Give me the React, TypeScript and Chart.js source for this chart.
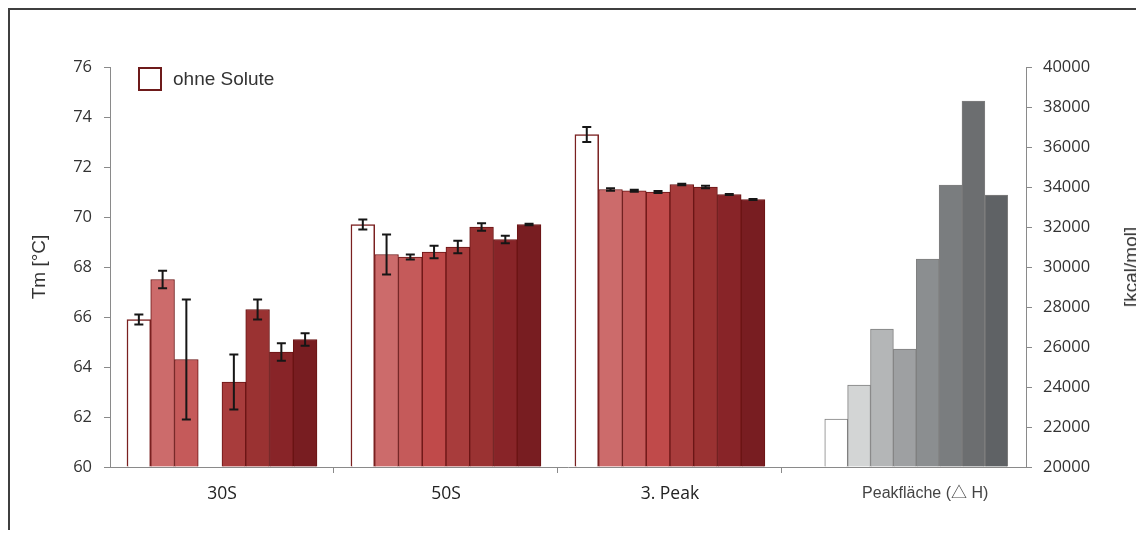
import React, { useEffect, useRef } from 'react';
import { Chart, registerables } from 'chart.js';

Chart.register(...registerables);

// Fraktionen mit Schmelztemperatur (Tm) und die Enthalpie-Gruppe
const categories = ['30S', '50S', '3. Peak'];
const enthalpyCategory = 'Peakfläche (△ H)';

const seriesNames = ['ohne Solute', 'Solut A', 'Solut B', 'Solut C', 'Solut D', 'Solut E', 'Solut F', 'Solut G'];

// Tm [°C] je Fraktion (30S, 50S, 3. Peak) und Standardabweichung
const tmOhneSolute = [65.9, 69.7, 73.3];
const sdOhneSolute = [0.2, 0.2, 0.3];
const tmSolutA = [67.5, 68.5, 71.1];
const sdSolutA = [0.35, 0.8, 0.05];
const tmSolutB = [64.3, 68.4, 71.05];
const sdSolutB = [2.4, 0.1, 0.04];
const tmSolutC = [null, 68.6, 71.0];
const sdSolutC = [null, 0.25, 0.04];
const tmSolutD = [63.4, 68.8, 71.3];
const sdSolutD = [1.1, 0.25, 0.03];
const tmSolutE = [66.3, 69.6, 71.2];
const sdSolutE = [0.4, 0.15, 0.05];
const tmSolutF = [64.6, 69.1, 70.9];
const sdSolutF = [0.35, 0.15, 0.02];
const tmSolutG = [65.1, 69.7, 70.7];
const sdSolutG = [0.25, 0.03, 0.02];

// Peakfläche ΔH [kcal/mol] je Probe
const deltaH = [22400, 24100, 26900, 25900, 30400, 34100, 38300, 33600];

// Achsenbereiche
const TM_MIN = 60;
const TM_MAX = 76;
const TM_STEP = 2;
const DH_MIN = 20000;
const DH_MAX = 40000;
const DH_STEP = 2000;

const tmRows = [tmOhneSolute, tmSolutA, tmSolutB, tmSolutC, tmSolutD, tmSolutE, tmSolutF, tmSolutG];
const sdRows = [sdOhneSolute, sdSolutA, sdSolutB, sdSolutC, sdSolutD, sdSolutE, sdSolutF, sdSolutG];

// Horizontale Einteilung: eine Einheit = eine Fraktion
const X_SPAN = 4.09;
const ENTHALPY_CENTER = 3.6;
const ENTHALPY_LABEL_AT = 3.64;
const RED_BAR_PX = 23.75;
const GREY_BAR_PX = 22.875;
const GREY_STEP = GREY_BAR_PX / 224;

const AXIS = '#8a8a8a';
const redFills = ['#ffffff', '#cc6b6b', '#c55a5a', '#c04a4a', '#a83c3c', '#9a3232', '#882428', '#781d21'];
const redBorders = ['#7a2020', '#6a1414', '#6a1414', '#6a1414', '#6a1414', '#6a1414', '#6a1414', '#6a1414'];
const greyFills = ['#ffffff', '#d3d5d5', '#b4b6b7', '#9ea0a2', '#8b8e90', '#7a7d7f', '#6c6e70', '#5f6265'];

const numFont = { family: "'Open Sans', sans-serif", size: 16.5 };
const catFont = { family: "'Open Sans', sans-serif", size: 17.5 };
const smallFont = { family: "'Liberation Sans', Arial, 'Noto Sans CJK JP', sans-serif", size: 16 };
const titleFamily = "'Liberation Sans', Arial, sans-serif";

const labelTexts = [...categories, enthalpyCategory];

const errorBars = {
  id: 'errorBars',
  afterDatasetsDraw(chart: any) {
    const ctx = chart.ctx;
    ctx.save();
    ctx.strokeStyle = '#161616';
    ctx.lineWidth = 2;
    chart.data.datasets.forEach((ds: any, i: number) => {
      const meta = chart.getDatasetMeta(i);
      if (meta.hidden) return;
      const yScale = chart.scales[meta.yAxisID];
      meta.data.forEach((bar: any, j: number) => {
        const pt = ds.data[j];
        if (!pt || pt.sd == null) return;
        const hi = yScale.getPixelForValue(pt.y + pt.sd);
        const lo = yScale.getPixelForValue(pt.y - pt.sd);
        const x = bar.x;
        const cap = 4.5;
        ctx.beginPath();
        ctx.moveTo(x, hi);
        ctx.lineTo(x, lo);
        ctx.moveTo(x - cap, hi);
        ctx.lineTo(x + cap, hi);
        ctx.moveTo(x - cap, lo);
        ctx.lineTo(x + cap, lo);
        ctx.stroke();
      });
    });
    ctx.restore();
  },
};

export default function App() {
  const canvasRef = useRef<HTMLCanvasElement>(null);

  useEffect(() => {
    const tmDatasets = tmRows.map((row, s) => ({
      type: 'bar' as const,
      label: seriesNames[s],
      xAxisID: 'x',
      yAxisID: 'y',
      data: row
        .map((v, c) => ({ x: c + 0.5, y: v, sd: sdRows[s][c] }))
        .filter((p) => p.y != null),
      backgroundColor: redFills[s],
      borderColor: redBorders[s],
      borderWidth: s === 0 ? 1.5 : 1,
      base: TM_MIN,
      grouped: true,
      barThickness: RED_BAR_PX,
    }));

    // ΔH-Säulen: eine Reihe, Proben nebeneinander um die Gruppenmitte
    const mid = (deltaH.length - 1) / 2;
    const dhDataset = {
      type: 'bar' as const,
      label: 'ΔH',
      xAxisID: 'x',
      yAxisID: 'y2',
      data: deltaH.map((v, k) => ({ x: ENTHALPY_CENTER + (k - mid) * GREY_STEP, y: v })),
      backgroundColor: greyFills,
      borderColor: '#7f7f7f',
      borderWidth: 1,
      base: DH_MIN,
      grouped: false,
      barThickness: GREY_BAR_PX,
    };

    const chart = new Chart(canvasRef.current!, {
      type: 'bar',
      data: { datasets: [...tmDatasets, dhDataset] as any },
      plugins: [errorBars],
      options: {
        responsive: false,
        animation: false,
        events: [],
        devicePixelRatio: 1,
        layout: { padding: { top: 57, left: 0, right: 0, bottom: 0 } },
        plugins: { legend: { display: false }, tooltip: { enabled: false } },
        scales: {
          x: {
            type: 'linear',
            axis: 'x',
            position: 'bottom',
            min: 0,
            max: X_SPAN,
            bounds: 'data',
            offset: false,
            weight: 0,
            afterBuildTicks: (scale: any) => {
              scale.ticks = categories.map((_, i) => ({ value: i + 1 }));
            },
            ticks: { display: false },
            grid: { drawOnChartArea: false, drawTicks: true, tickLength: 6, color: AXIS, offset: false },
            border: { display: true, color: AXIS, width: 1 },
          },
          xLabels: {
            type: 'linear',
            axis: 'x',
            position: 'bottom',
            min: 0,
            max: X_SPAN,
            bounds: 'data',
            offset: false,
            weight: 1,
            afterBuildTicks: (scale: any) => {
              scale.ticks = [
                ...categories.map((_, i) => ({ value: i + 0.5 })),
                { value: ENTHALPY_LABEL_AT },
              ];
            },
            afterFit: (scale: any) => {
              scale.height = 57;
            },
            ticks: {
              autoSkip: false,
              maxRotation: 0,
              padding: 11,
              callback: (_v: any, i: number) => labelTexts[i],
              font: (ctx: any) => (ctx.index === categories.length ? smallFont : catFont),
              color: (ctx: any) => (ctx.index === categories.length ? '#444444' : '#222222'),
            },
            grid: { display: false, drawTicks: false, offset: false },
            border: { display: false },
          },
          y: {
            type: 'linear',
            position: 'left',
            min: TM_MIN,
            max: TM_MAX,
            ticks: {
              stepSize: TM_STEP,
              padding: 12,
              font: numFont,
              color: '#333333',
              callback: (v: any) => String(v),
            },
            grid: { drawOnChartArea: false, tickLength: 6, color: AXIS },
            border: { display: true, color: AXIS, width: 1 },
            title: {
              display: true,
              text: 'Tm [°C]',
              color: '#333333',
              font: { family: titleFamily, size: 19 },
              padding: { top: 18.6, bottom: 0 },
            },
            afterFit: (scale: any) => {
              scale.width = 100;
            },
          },
          y2: {
            type: 'linear',
            axis: 'y',
            position: 'right',
            min: DH_MIN,
            max: DH_MAX,
            ticks: {
              stepSize: DH_STEP,
              padding: 11,
              font: numFont,
              color: '#333333',
              callback: (v: any) => String(v),
            },
            grid: { drawOnChartArea: false, tickLength: 6, color: AXIS },
            border: { display: true, color: AXIS, width: 1 },
            afterFit: (scale: any) => {
              scale.width = 110;
            },
          },
        },
      } as any,
    });
    return () => chart.destroy();
  }, []);

  return (
    <div
      style={{
        position: 'relative',
        width: 1126,
        height: 520,
        overflow: 'hidden',
        borderTop: '2px solid #3f3f3f',
        borderLeft: '2px solid #3f3f3f',
        background: '#ffffff',
      }}
    >
      <canvas ref={canvasRef} width={1126} height={520} style={{ display: 'block' }} />
      <div
        style={{
          position: 'absolute',
          left: 128,
          top: 57,
          width: 24,
          height: 24,
          boxSizing: 'border-box',
          border: '2px solid #6e1a1a',
          background: '#ffffff',
        }}
      />
      <div
        style={{
          position: 'absolute',
          left: 163,
          top: 57,
          lineHeight: '24px',
          fontSize: 19,
          fontFamily: titleFamily,
          color: '#333333',
          whiteSpace: 'nowrap',
        }}
      >
        {seriesNames[0]}
      </div>
      <div
        style={{
          position: 'absolute',
          left: 1121,
          top: 257,
          transform: 'translate(-50%, -50%) rotate(-90deg)',
          fontSize: 19,
          fontFamily: titleFamily,
          color: '#333333',
          whiteSpace: 'nowrap',
        }}
      >
        [kcal/mol]
      </div>
    </div>
  );
}
